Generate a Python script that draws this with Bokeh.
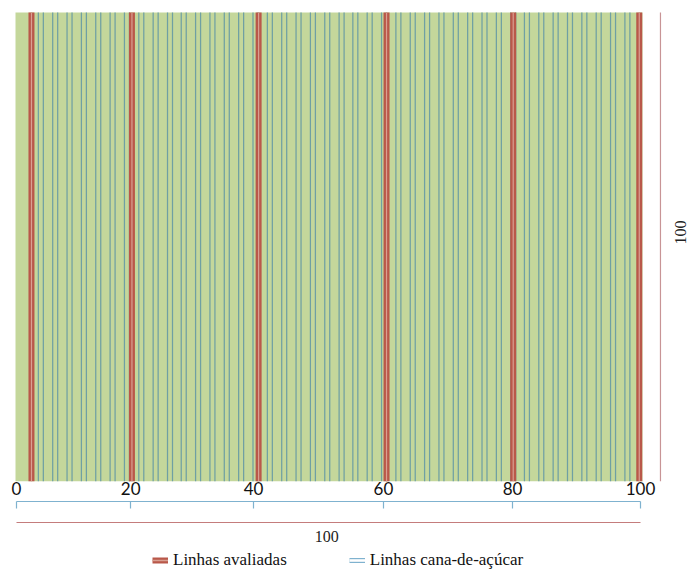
import math
from bokeh.plotting import figure
from bokeh.models import Range1d, LinearAxis, FixedTicker, Legend, LegendItem
from bokeh.layouts import column
from bokeh.embed import file_html
from bokeh.resources import INLINE
from bokeh.core.properties import value

# ---- data ----
tick_pos = [0, 18.3, 38.0, 58.8, 79.5, 100]
tick_labels = ["0", "20", "40", "60", "80", "100"]
field_x = [-0.16, 100.32]
field_y = [0, 100]
evaluated_rows = [2.4, 18.5, 38.8, 59.3, 79.6, 99.8]
cane_rows = [3.5, 4.3, 5.8, 6.6, 8.1, 8.9, 10.4, 11.2, 12.7, 13.5, 15.0, 15.8,
             17.3, 18.1, 19.6, 20.4, 21.9, 22.7, 24.2, 25.0, 26.4, 27.2, 28.7,
             29.5, 31.0, 31.8, 33.3, 34.1, 35.6, 36.4, 37.9, 38.7, 40.2, 41.0,
             42.5, 43.3, 44.8, 45.6, 47.1, 47.9, 49.4, 50.2, 51.7, 52.5, 53.9,
             54.7, 56.2, 57.0, 58.5, 59.3, 60.8, 61.6, 63.1, 63.9, 65.4, 66.2,
             67.7, 68.5, 70.0, 70.8, 72.3, 73.1, 74.6, 75.4, 76.9, 77.7, 79.2,
             80.0, 81.4, 82.2, 83.7, 84.5, 86.0, 86.8, 88.3, 89.1, 90.6, 91.4,
             92.9, 93.7, 95.2, 96.0, 97.5, 98.3]
width_label = "100"
length_label = "100"
legend_labels = ["Linhas avaliadas", "Linhas cana-de-açúcar"]

RED = "#b9584a"
RED_IN = "#d9a092"
BLUE = "#6fa0a3"
LEG_BLUE = "#7fb2cf"
GREEN = "#c4d79b"

W = 689
xr = Range1d(-16 / 6.24, (W - 16) / 6.24)
overrides = {t: l for t, l in zip(tick_pos, tick_labels)}

F1 = 481          # frame height of the field figure
B1 = 20           # room for the tick labels below it
# ---- top figure: the field, with the tick labels below it ----
p1 = figure(width=W, height=F1 + B1, x_range=xr,
            y_range=Range1d(0, 100 + 12 * 100 / (F1 - 12)),
            output_backend="svg", toolbar_location=None,
            x_axis_location=None, y_axis_location=None,
            min_border_left=0, min_border_right=0, min_border_top=0,
            min_border_bottom=B1)
p1.outline_line_color = None
p1.grid.grid_line_color = None

p1.quad(left=[field_x[0]], right=[field_x[1]], bottom=[field_y[0]], top=[field_y[1]],
        fill_color=GREEN, line_color=None)
n = len(cane_rows)
p1.segment(x0=cane_rows, x1=cane_rows, y0=[field_y[0]] * n, y1=[field_y[1]] * n,
           line_color=BLUE, line_width=1.25)
m = len(evaluated_rows)
p1.segment(x0=evaluated_rows, x1=evaluated_rows, y0=[field_y[0]] * m, y1=[field_y[1]] * m,
           line_color=RED, line_width=6)
p1.segment(x0=evaluated_rows, x1=evaluated_rows, y0=[field_y[0]] * m, y1=[field_y[1]] * m,
           line_color=RED_IN, line_width=1.2)
# field length dimension line on the right
p1.segment(x0=[103.2], x1=[103.2], y0=[field_y[0]], y1=[field_y[1]],
           line_color="#c89496", line_width=1.2)
p1.text(x=[106.4], y=[53.1], text=[length_label], angle=math.pi / 2,
        text_font=value("Liberation Serif"), text_font_size="16px",
        text_align="center", text_baseline="middle", text_color="#222222")

lab_ax = LinearAxis(ticker=FixedTicker(ticks=tick_pos), major_label_overrides=overrides,
                    bounds=(0, 100))
lab_ax.axis_line_color = None
lab_ax.major_tick_line_color = None
lab_ax.minor_tick_line_color = None
lab_ax.major_tick_in = 0
lab_ax.major_tick_out = 0
lab_ax.major_label_standoff = 0
lab_ax.major_label_text_font = "Lato"
lab_ax.major_label_text_font_size = "17px"
lab_ax.major_label_text_color = "#111111"
p1.add_layout(lab_ax, "below")

# ---- bottom figure: axis line, width dimension and legend ----
H2 = 581 - (F1 + B1)
p2 = figure(width=W, height=H2, x_range=xr, y_range=Range1d(0, H2),
            output_backend="svg", toolbar_location=None,
            x_axis_location=None, y_axis_location=None,
            min_border=0)
p2.outline_line_color = None
p2.grid.grid_line_color = None

ax = LinearAxis(ticker=FixedTicker(ticks=tick_pos), bounds=(0, 100))
ax.axis_line_color = LEG_BLUE
ax.axis_line_width = 1.2
ax.major_tick_line_color = LEG_BLUE
ax.major_tick_line_width = 1.2
ax.major_tick_in = 7
ax.major_tick_out = 0
ax.minor_tick_line_color = None
ax.major_label_standoff = 0
ax.major_label_text_color = None   # labels are shown by the axis above the line
p2.add_layout(ax, "above")

p2.segment(x0=[0], x1=[100], y0=[59], y1=[59], line_color="#c47c7c", line_width=1.2)
p2.text(x=[49.7], y=[45.5], text=[width_label],
        text_font=value("Liberation Serif"), text_font_size="16px",
        text_align="center", text_baseline="middle", text_color="#222222")

# legend proxies (kept below the visible range)
r1 = p2.line(x=[0, 1], y=[-20, -20], line_color=RED, line_width=6)
r2 = p2.line(x=[0, 1], y=[-20, -20], line_color=RED_IN, line_width=1.5)
r3 = p2.line(x=[0, 1], y=[-20, -20], line_color=LEG_BLUE, line_width=5)
r4 = p2.line(x=[0, 1], y=[-20, -20], line_color="white", line_width=2.6)
legend = Legend(items=[LegendItem(label=legend_labels[0], renderers=[r1, r2]),
                       LegendItem(label=legend_labels[1], renderers=[r3, r4])],
                orientation="horizontal", location=(152, 11),
                border_line_color=None, background_fill_alpha=0,
                padding=0, margin=0, glyph_width=16, glyph_height=20,
                label_standoff=5, spacing=62,
                label_text_font="Liberation Serif", label_text_font_size="17px",
                label_text_color="#111111")
p2.add_layout(legend)

layout = column(p1, p2)
open("out.html", "w").write(file_html(layout, INLINE))
